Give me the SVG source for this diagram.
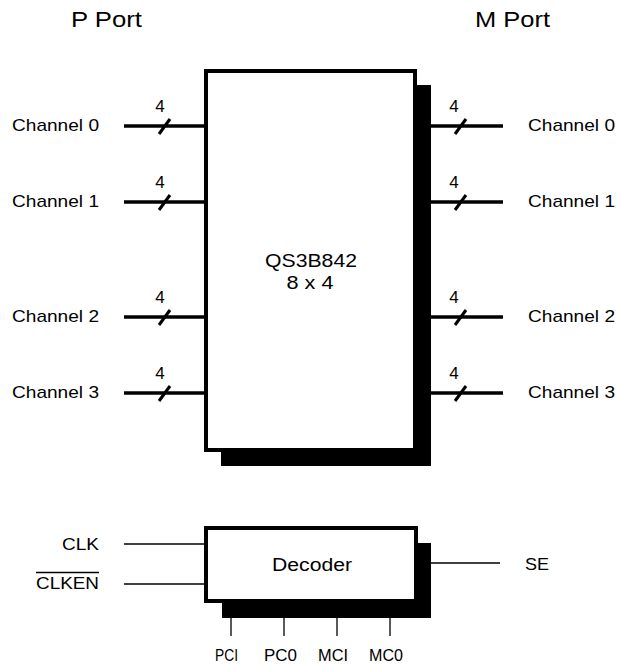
<svg xmlns="http://www.w3.org/2000/svg" width="617" height="665" viewBox="0 0 617 665">
<style>
text{font-family:"Liberation Sans",Arial,sans-serif;fill:#000}
.lbl{font-size:17px}
.ttl{font-size:21.5px}
.num{font-size:17px;text-anchor:middle}
.mid{text-anchor:middle}
.bus{stroke:#000;stroke-width:3.6;fill:none}
.slash{stroke:#000;stroke-width:3;fill:none}
.thin{stroke:#000;stroke-width:1.3;fill:none}
.box{fill:#fff;stroke:#000;stroke-width:4}
.shadow{fill:#000}
</style>
<rect width="617" height="665" fill="#fff"/>
<text class="ttl" x="71" y="27" textLength="71" lengthAdjust="spacingAndGlyphs">P Port</text>
<text class="ttl" x="475" y="27" textLength="75" lengthAdjust="spacingAndGlyphs">M Port</text>

<g id="mux">
<rect class="shadow" x="221" y="85" width="210" height="381"/>
<rect class="box" x="206" y="71" width="209" height="379"/>
<text class="mid" style="font-size:18.5px" x="311" y="267" textLength="92" lengthAdjust="spacingAndGlyphs">QS3B842</text>
<text class="mid" style="font-size:18.5px" x="310" y="289" textLength="47" lengthAdjust="spacingAndGlyphs">8 x 4</text>
</g>

<g id="decoder">
<rect class="shadow" x="222" y="543" width="209" height="75"/>
<rect class="box" x="206" y="528" width="210" height="73"/>
<text class="mid" style="font-size:18px" x="312" y="571" textLength="80" lengthAdjust="spacingAndGlyphs">Decoder</text>
</g>

<g id="connectors">
<line class="bus" x1="124" y1="126" x2="206" y2="126"/>
<line class="bus" x1="124" y1="202" x2="206" y2="202"/>
<line class="bus" x1="124" y1="317" x2="206" y2="317"/>
<line class="bus" x1="124" y1="393" x2="206" y2="393"/>
<line class="bus" x1="431" y1="126" x2="503" y2="126"/>
<line class="bus" x1="431" y1="202" x2="503" y2="202"/>
<line class="bus" x1="431" y1="317" x2="503" y2="317"/>
<line class="bus" x1="431" y1="393" x2="503" y2="393"/>
<g class="slash">
<line x1="159" y1="134" x2="170" y2="119"/>
<line x1="159" y1="210" x2="170" y2="195"/>
<line x1="159" y1="325" x2="170" y2="310"/>
<line x1="159" y1="401" x2="170" y2="386"/>
<line x1="455" y1="134" x2="466" y2="119"/>
<line x1="455" y1="210" x2="466" y2="195"/>
<line x1="455" y1="325" x2="466" y2="310"/>
<line x1="455" y1="401" x2="466" y2="386"/>
</g>
<line class="thin" x1="124" y1="544" x2="206" y2="544"/>
<line class="thin" x1="124" y1="584" x2="206" y2="584"/>
<line class="thin" x1="431" y1="563" x2="500" y2="563"/>
<line class="thin" x1="231" y1="618" x2="231" y2="636"/>
<line class="thin" x1="284" y1="618" x2="284" y2="636"/>
<line class="thin" x1="337" y1="618" x2="337" y2="636"/>
<line class="thin" x1="390" y1="618" x2="390" y2="636"/>
</g>

<g id="labels">
<text class="num" x="160" y="112">4</text>
<text class="num" x="160" y="188">4</text>
<text class="num" x="160" y="303">4</text>
<text class="num" x="160" y="379">4</text>
<text class="num" x="454" y="112">4</text>
<text class="num" x="454" y="188">4</text>
<text class="num" x="454" y="303">4</text>
<text class="num" x="454" y="379">4</text>

<text class="lbl" x="12" y="131" textLength="87" lengthAdjust="spacingAndGlyphs">Channel 0</text>
<text class="lbl" x="12" y="207" textLength="87" lengthAdjust="spacingAndGlyphs">Channel 1</text>
<text class="lbl" x="12" y="322" textLength="87" lengthAdjust="spacingAndGlyphs">Channel 2</text>
<text class="lbl" x="12" y="398" textLength="87" lengthAdjust="spacingAndGlyphs">Channel 3</text>
<text class="lbl" x="528" y="131" textLength="87" lengthAdjust="spacingAndGlyphs">Channel 0</text>
<text class="lbl" x="528" y="207" textLength="87" lengthAdjust="spacingAndGlyphs">Channel 1</text>
<text class="lbl" x="528" y="322" textLength="87" lengthAdjust="spacingAndGlyphs">Channel 2</text>
<text class="lbl" x="528" y="398" textLength="87" lengthAdjust="spacingAndGlyphs">Channel 3</text>

<text class="lbl" x="62" y="550" textLength="37" lengthAdjust="spacingAndGlyphs">CLK</text>
<text class="lbl" x="36" y="589" textLength="63" lengthAdjust="spacingAndGlyphs">CLKEN</text>
<line x1="36" y1="572.5" x2="99" y2="572.5" stroke="#000" stroke-width="1.3"/>
<text class="lbl" x="525" y="570" textLength="24" lengthAdjust="spacingAndGlyphs">SE</text>

<text class="lbl" x="215" y="661" textLength="23" lengthAdjust="spacingAndGlyphs">PCI</text>
<text class="lbl" x="264" y="661" textLength="33" lengthAdjust="spacingAndGlyphs">PC0</text>
<text class="lbl" x="318" y="661" textLength="30" lengthAdjust="spacingAndGlyphs">MCI</text>
<text class="lbl" x="369" y="661" textLength="34" lengthAdjust="spacingAndGlyphs">MC0</text>
</g>
</svg>
